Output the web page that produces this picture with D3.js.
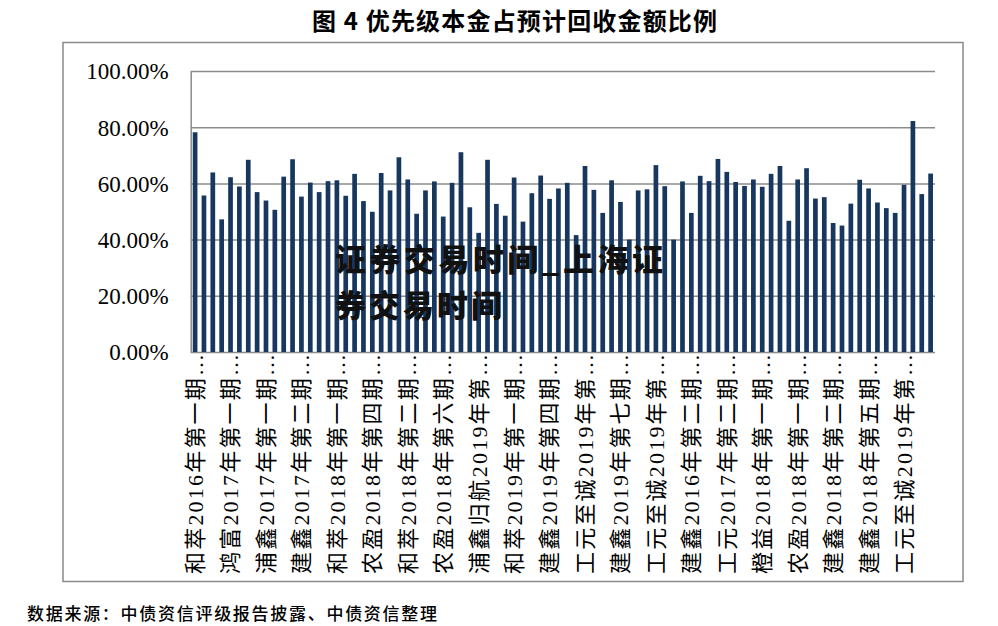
<!DOCTYPE html>
<html>
<head>
<meta charset="utf-8">
<script src="https://cdn.jsdelivr.net/npm/d3@7"></script>
<style>
  body { margin: 0; background: #fff; }
  svg { display: block; }
</style>
</head>
<body>
<div id="visualization"></div>
<script>
// 优先级本金占预计回收金额比例, one bar per deal
const values = [
  0.782, 0.557, 0.639, 0.472, 0.622, 0.589, 0.684, 0.569, 0.539, 0.506,
  0.624, 0.686, 0.553, 0.603, 0.569, 0.608, 0.611, 0.556, 0.634, 0.537,
  0.499, 0.637, 0.575, 0.693, 0.614, 0.492, 0.575, 0.607, 0.482, 0.602,
  0.711, 0.515, 0.424, 0.684, 0.527, 0.485, 0.621, 0.464, 0.565, 0.628,
  0.545, 0.582, 0.602, 0.416, 0.662, 0.577, 0.495, 0.611, 0.534, 0.400,
  0.575, 0.579, 0.665, 0.590, 0.400, 0.607, 0.495, 0.627, 0.608, 0.687,
  0.641, 0.605, 0.591, 0.614, 0.588, 0.634, 0.662, 0.467, 0.614, 0.654,
  0.546, 0.551, 0.459, 0.450, 0.528, 0.613, 0.582, 0.532, 0.512, 0.495,
  0.595, 0.822, 0.562, 0.635
];

// one label shown every 4 bars
const labels = [
  "和萃2016年第一期…", "鸿富2017年第一期…", "浦鑫2017年第一期…", "建鑫2017年第二期…",
  "和萃2018年第一期…", "农盈2018年第四期…", "和萃2018年第二期…", "农盈2018年第六期…",
  "浦鑫归航2019年第…", "和萃2019年第一期…", "建鑫2019年第四期…", "工元至诚2019年第…",
  "建鑫2019年第七期…", "工元至诚2019年第…", "建鑫2016年第二期…", "工元2017年第二期…",
  "橙益2018年第一期…", "农盈2018年第一期…", "建鑫2018年第二期…", "建鑫2018年第五期…",
  "工元至诚2019年第…"
];
const labelStep = 4;
const yTicks = [0, 0.2, 0.4, 0.6, 0.8, 1.0];

const title = "图 4  优先级本金占预计回收金额比例";
const source = "数据来源：中债资信评级报告披露、中债资信整理";
const mark = ["证券交易时间_上海证", "券交易时间"];

const W = 998, H = 626;
const margin = {top: 71, right: 63, bottom: 274, left: 190.7};
const width = W - margin.left - margin.right;
const height = H - margin.top - margin.bottom;

const svg = d3.select("#visualization")
    .append("svg")
    .attr("width", W)
    .attr("height", H);

// outer frame
svg.append("rect")
    .attr("x", 63).attr("y", 42.5)
    .attr("width", 900).attr("height", 539)
    .attr("fill", "none")
    .attr("stroke", "#8a8a8a")
    .attr("stroke-width", 1.5);

svg.append("text")
    .attr("x", 312).attr("y", 30)
    .attr("textLength", 405)
    .attr("lengthAdjust", "spacing")
    .style("font-family", "'Noto Sans CJK SC', sans-serif")
    .style("font-weight", 700)
    .style("font-size", "24px")
    .text(title);

const g = svg.append("g")
    .attr("transform", `translate(${margin.left},${margin.top})`);

const x = d3.scaleBand()
    .domain(values.map((d, i) => i))
    .range([0, width])
    .paddingInner(0.47)
    .paddingOuter(0.23);

const y = d3.scaleLinear().domain([0, 1]).range([height, 0]);

// gridlines
g.append("g")
    .call(d3.axisLeft(y).tickValues(yTicks).tickSize(-width).tickFormat(""))
    .call(s => s.select(".domain").remove())
    .selectAll("line")
    .attr("stroke", "#8c8c8c")
    .attr("stroke-width", 1.5);

g.selectAll(".bar")
    .data(values)
    .enter().append("rect")
    .attr("class", "bar")
    .attr("x", (d, i) => x(i))
    .attr("width", x.bandwidth())
    .attr("y", d => y(d))
    .attr("height", d => height - y(d))
    .style("fill", "#17375e");

// y axis
const yAxis = g.append("g")
    .call(d3.axisLeft(y).tickValues(yTicks).tickSize(0).tickPadding(22).tickFormat(d3.format(".2%")));
yAxis.select(".domain").attr("stroke", "#8c8c8c").attr("stroke-width", 1.5);
yAxis.selectAll("text")
    .style("font-family", "'Liberation Serif', 'Times New Roman', serif")
    .style("font-size", "23px")
    .attr("fill", "#000")
    .attr("dy", "0.34em");

// x axis, labels rotated
const xAxis = g.append("g")
    .attr("transform", `translate(0,${height})`)
    .call(d3.axisBottom(x)
        .tickValues(values.map((d, i) => i).filter(i => i % labelStep === 0))
        .tickSize(0)
        .tickFormat(i => labels[i / labelStep]));
xAxis.select(".domain").remove();
xAxis.selectAll("text")
    .style("font-family", "'Liberation Serif', 'Noto Sans CJK SC', serif")
    .style("font-size", "22px")
    .attr("fill", "#000")
    .style("text-anchor", "end")
    .attr("textLength", 220)
    .attr("lengthAdjust", "spacing")
    .attr("x", 0)
    .attr("y", 0)
    .attr("dy", "0.36em")
    .attr("transform", "rotate(-90) translate(-2,0)");

// overlay text
svg.append("g").selectAll("text")
    .data(mark)
    .enter().append("text")
    .attr("x", 335)
    .attr("y", (d, i) => 271 + i * 46)
    .attr("textLength", (d, i) => i === 0 ? 328 : 167)
    .attr("lengthAdjust", "spacing")
    .style("font-family", "'Noto Sans CJK SC', sans-serif")
    .style("font-weight", 900)
    .style("font-size", "31px")
    .attr("fill", "#111")
    .text(d => d);

svg.append("text")
    .attr("x", 27).attr("y", 620)
    .attr("textLength", 410)
    .attr("lengthAdjust", "spacing")
    .style("font-family", "'Noto Sans CJK SC', sans-serif")
    .style("font-weight", 500)
    .style("font-size", "17px")
    .text(source);
</script>
</body>
</html>
